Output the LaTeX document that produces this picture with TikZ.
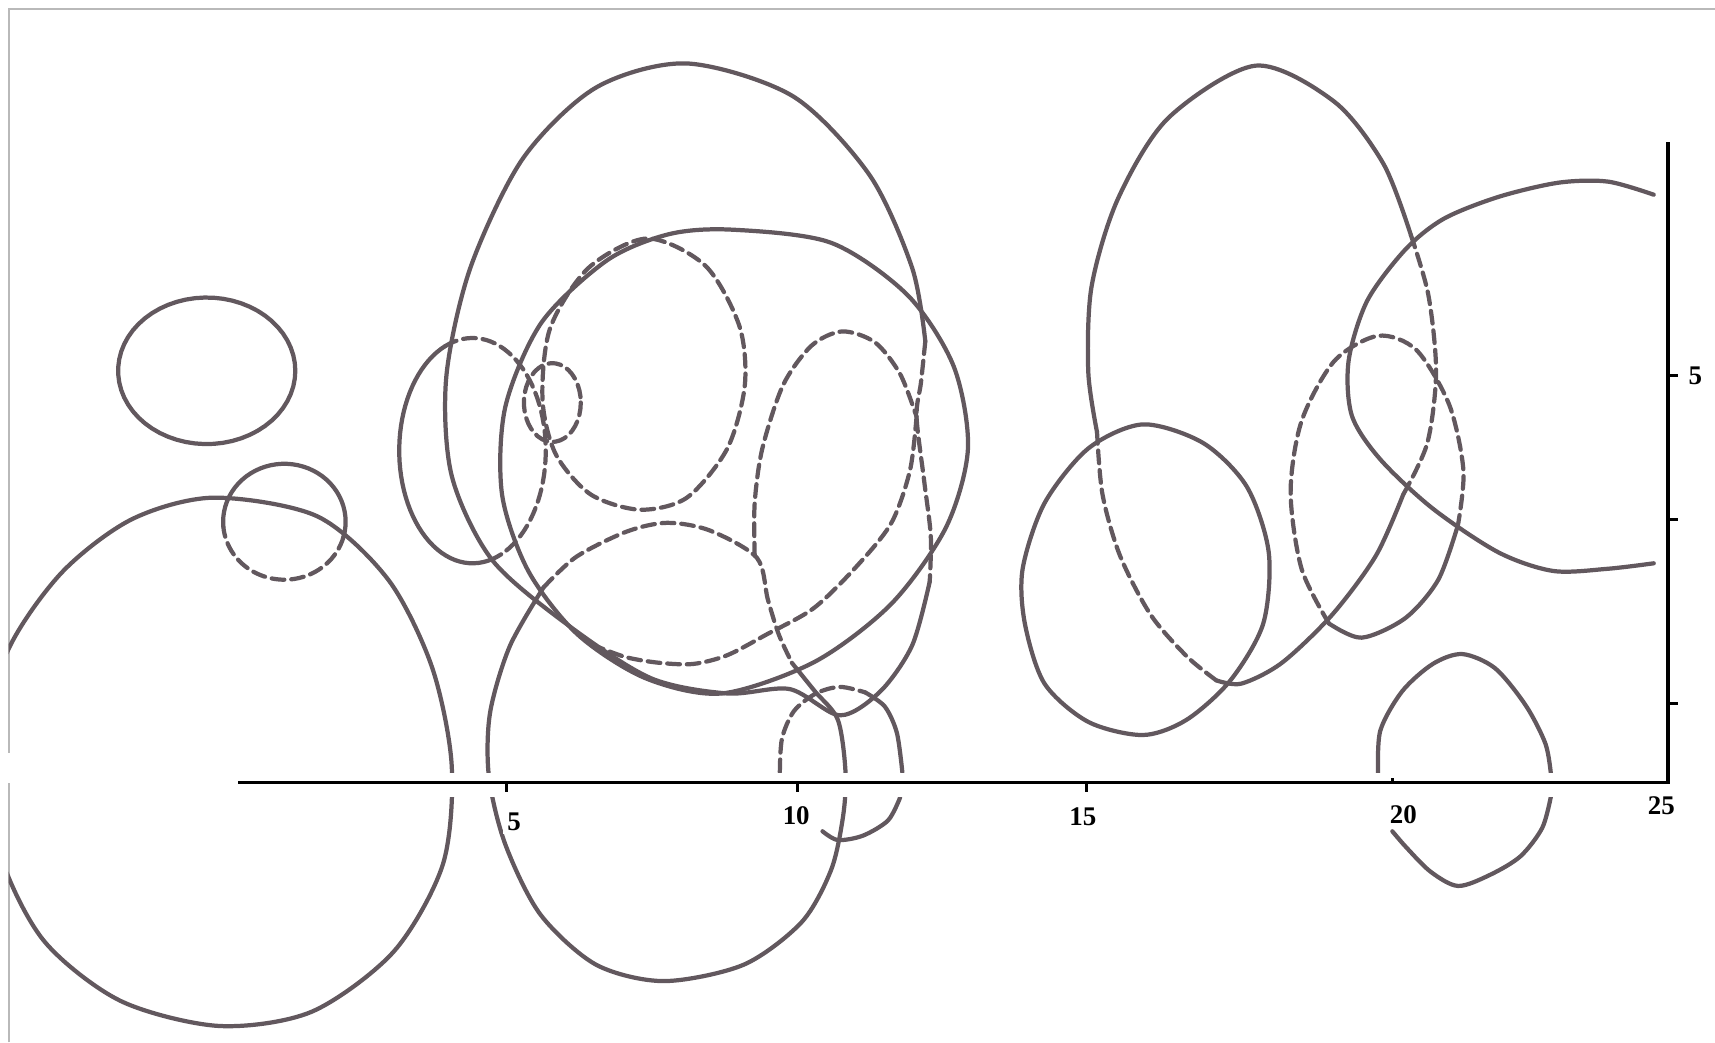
\documentclass[tikz,border=0pt]{standalone}
\usepackage{fontspec}
\setmainfont{Liberation Serif}
\definecolor{pen}{RGB}{98,88,94}

\begin{document}
\begin{tikzpicture}[x=0.01cm, y=-0.01cm,
  % pencil strokes of the scanned sketch; one unit is one pixel of the page
  penline/.style={draw=pen, line width=1.1pt, line cap=round, line join=round},
  dashedline/.style={penline, dash pattern=on 3.3pt off 1.8pt},
  axisline/.style={draw=black, line width=0.8pt},
  ticklabel/.style={font=\fontsize{7}{8}\selectfont\bfseries, fill=white, inner sep=1pt}
]
\useasboundingbox (0,0) rectangle (1568,953);
\draw[gray!55, line width=0.6pt] (8,953) -- (8,716);
\draw[gray!55, line width=0.6pt] (8,688) -- (8,8) -- (1568,8);

% left group
\draw[penline] plot[domain=0:360, samples=60] ({189+81*cos(\x)},{339+67*sin(\x)});
\draw[penline] plot[domain=175:375, samples=40] ({260+56*cos(\x)},{477+53*sin(\x)});
\draw[dashedline] plot[domain=15:175, samples=40] ({260+56*cos(\x)},{477+53*sin(\x)});
\begin{scope}
  \clip (8,8) rectangle (1568,953);
  \draw[penline] plot[smooth cycle] coordinates {(195,455) (290,472) (355,530) (395,610) (413,700) (405,790) (360,870) (285,925) (200,938) (110,915) (40,860) (0,780) (-8,690) (5,600) (55,525) (120,475)};
\end{scope}

% middle group
\draw[penline] plot[domain=67:248, samples=50] ({432+67*cos(\x)},{412+103*sin(\x)});
\draw[dashedline] plot[domain=248:427, samples=50] ({432+67*cos(\x)},{412+103*sin(\x)});
\draw[dashedline] plot[domain=0:360, samples=40] ({505+26*cos(\x)},{368+36*sin(\x)});
\draw[dashedline] plot[smooth cycle] coordinates {(592,218) (645,243) (676,298) (681,352) (665,410) (628,455) (585,466) (540,452) (508,415) (496,365) (503,300) (538,245)};
\draw[penline] plot[smooth cycle] coordinates {(670,210) (760,222) (830,270) (872,335) (885,410) (865,482) (815,552) (745,605) (660,634) (590,620) (528,580) (483,522) (459,452) (462,372) (495,295) (555,238) (612,214)};
\draw[penline] plot[smooth] coordinates {(846,312) (834,245) (795,160) (725,88) (628,58) (545,80) (478,145) (430,245) (408,345) (413,435) (450,512) (520,572) (595,620) (665,634) (722,630) (768,654) (805,632) (834,590) (850,532)};
\draw[dashedline] plot[smooth] coordinates {(846,312) (842,350) (838,381) (845,440) (851,490) (850,532)};
\draw[dashedline] plot[smooth] coordinates {(690,508) (690,460) (697,410) (716,352) (742,316) (770,303) (800,313) (823,342) (838,381)};
\draw[dashedline] plot[smooth] coordinates {(838,381) (832,430) (815,478) (783,518) (744,556) (701,580) (665,599) (634,607) (603,606) (573,601) (548,592)};
\draw[dashedline] plot[smooth] coordinates {(497,537) (527,509) (573,486) (610,478) (649,485) (692,510) (702,548) (712,580) (724,606)};
\draw[penline] plot[smooth] coordinates {(724,606) (745,632) (766,658) (773,705) (771,745) (760,795) (733,843) (680,882) (607,897) (545,882) (494,836) (462,772) (447,710) (448,652) (466,591) (497,537)};
\draw[dashedline] plot[smooth] coordinates {(713,706) (715,675) (726,650) (746,634) (768,628) (791,633)};
\draw[penline] plot[smooth] coordinates {(791,633) (809,646) (820,670) (825,706)};
\draw[penline] plot[smooth] coordinates {(823,729) (812,750) (789,764) (766,768) (752,760)};

% right group
\draw[penline] plot[smooth] coordinates {(1003,395) (995,340) (998,262) (1022,182) (1068,108) (1148,60) (1220,93) (1265,150) (1290,215)};
\draw[dashedline] plot[smooth] coordinates {(1290,215) (1306,270) (1313,340) (1305,405) (1283,452)};
\draw[penline] plot[smooth] coordinates {(1283,452) (1258,508) (1218,562) (1172,606) (1135,625) (1112,622)};
\draw[dashedline] plot[smooth] coordinates {(1112,622) (1085,600) (1052,562) (1024,508) (1008,452) (1003,395)};
\draw[penline] plot[smooth cycle] coordinates {(1045,388) (1100,405) (1140,445) (1160,505) (1155,570) (1125,622) (1085,658) (1045,672) (995,660) (955,625) (937,570) (935,520) (955,460) (995,410)};
\draw[dashedline] plot[smooth] coordinates {(1215,570) (1190,520) (1180,450) (1190,385) (1220,330) (1260,307) (1295,320) (1325,370) (1338,430) (1333,480)};
\draw[penline] plot[smooth] coordinates {(1333,480) (1315,530) (1285,565) (1245,583) (1215,570)};
\draw[penline] plot[smooth] coordinates {(1512,178) (1470,166) (1425,167) (1370,180) (1320,200) (1285,228) (1250,275) (1233,330) (1236,380) (1262,420) (1310,465) (1370,505) (1420,522) (1470,520) (1512,515)};
\draw[penline] plot[smooth] coordinates {(1260,708) (1262,668) (1282,632) (1310,607) (1337,598) (1367,611) (1395,645) (1413,680) (1418,708)};
\draw[penline] plot[smooth] coordinates {(1418,728) (1410,757) (1390,783) (1362,800) (1333,810) (1308,797) (1286,775) (1273,760)};

% axes
\fill[white] (400,707) rectangle (1440,729);
\draw[axisline] (218,715) -- (1525,715) -- (1525,130);
\foreach \t in {463,729,993}
  \draw[axisline] (\t,715) -- (\t,724);
\draw[axisline] (1273,715) -- (1273,711);
\foreach \t in {343,475,643}
  \draw[axisline] (1525,\t) -- (1534,\t);
\node[ticklabel] (lab5) at (470,751) {5};
\node[ticklabel] (lab10) at (728,746) {10};
\node[ticklabel] (lab15) at (990,747) {15};
\node[ticklabel] (lab20) at (1283,745) {20};
\node[ticklabel] (lab25) at (1519,737) {25};
\node[ticklabel] (labv5) at (1550,344) {5};
\end{tikzpicture}
\end{document}
